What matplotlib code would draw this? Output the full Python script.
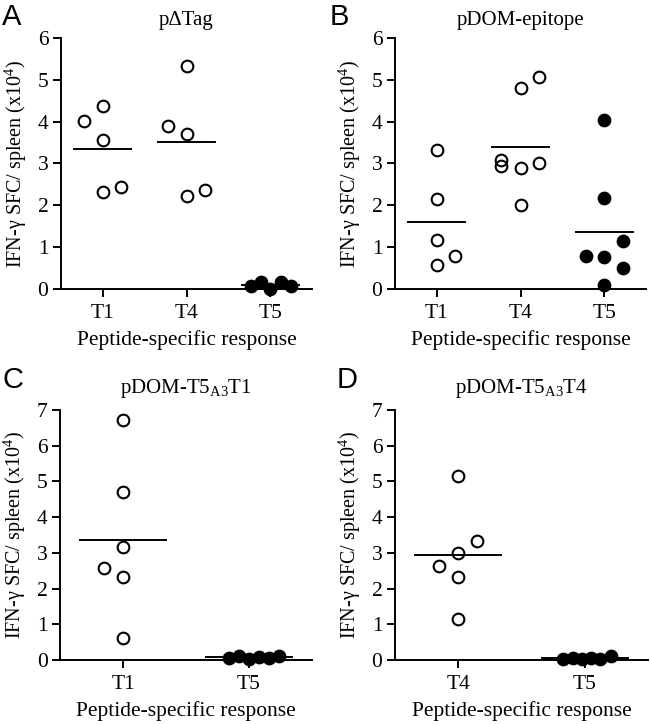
import matplotlib
matplotlib.use('Agg')
import matplotlib.pyplot as plt
import numpy as np

plt.rcParams['font.family'] = ['Liberation Serif', 'DejaVu Serif']
plt.rcParams['mathtext.fontset'] = 'custom'
plt.rcParams['mathtext.rm'] = 'Liberation Serif'
plt.rcParams['mathtext.it'] = 'Liberation Serif:italic'

# ---- data (x10^4 SFC / spleen)
# panel A  (pDeltaTag)
a_cats = ['T1', 'T4', 'T5']
a_t1 = [4.01, 4.38, 3.57, 2.31, 2.44]
a_t4 = [3.90, 5.34, 3.71, 2.23, 2.37]
a_t5 = [0.08, 0.17, 0.00, 0.17, 0.08]
# horizontal scatter of the points inside a column
a_t1_dx = [-0.22, 0, 0, 0, 0.22]
a_t4_dx = [-0.22, 0, 0, 0, 0.22]
a_t5_dx = [-0.23, -0.11, 0, 0.13, 0.25]

# panel B  (pDOM-epitope)
b_cats = ['T1', 'T4', 'T5']
b_t1 = [3.33, 2.14, 1.16, 0.58, 0.80]
b_t4 = [3.08, 2.94, 4.80, 5.07, 2.89, 3.00, 2.01]
b_t5 = [4.03, 2.18, 0.80, 0.76, 1.14, 0.50, 0.10]
b_t1_dx = [0, 0, 0, 0, 0.22]
b_t4_dx = [-0.23, -0.23, 0, 0.22, 0, 0.22, 0]
b_t5_dx = [0, 0, -0.22, 0, 0.22, 0.22, 0]

# panel C  (pDOM-T5A3T1)
c_cats = ['T1', 'T5']
c_t1 = [6.72, 4.70, 3.17, 2.58, 2.33, 0.61]
c_t5 = [0.05, 0.12, 0.02, 0.08, 0.06, 0.12]
c_t1_dx = [0, 0, 0, -0.15, 0, 0]
c_t5_dx = [-0.16, -0.08, 0, 0.08, 0.16, 0.24]

# panel D  (pDOM-T5A3T4)
d_cats = ['T4', 'T5']
d_t4 = [5.16, 3.34, 3.00, 2.64, 2.33, 1.15]
d_t5 = [0.03, 0.06, 0.02, 0.05, 0.04, 0.10]
d_t4_dx = [0, 0.15, 0, -0.15, 0, 0]
d_t5_dx = [-0.17, -0.09, -0.02, 0.05, 0.12, 0.21]

W, H = 650, 724
fig = plt.figure(figsize=(W / 100, H / 100), dpi=100)


def px_axes(left, right, top, bottom):
    # axes from pixel box
    return fig.add_axes([left / W, (H - bottom) / H, (right - left) / W, (bottom - top) / H])


def panel(ax, cats, groups, offsets, filled, title, ymax, letter, letter_xy, tpad):
    for i, (vals, dx, fill) in enumerate(zip(groups, offsets, filled)):
        xs = i + np.array(dx)
        m = np.mean(vals)
        ax.plot([i - 0.34, i + 0.34], [m, m], color='black', lw=1.4, zorder=2, clip_on=False)
        ax.plot(xs, vals, 'o', ms=8.4, mew=1.5, mec='black',
                mfc='black' if fill else 'none', zorder=3, clip_on=False)
    ax.set_xlim(-0.5, len(cats) - 0.5)
    ax.set_ylim(0, ymax)
    ax.set_yticks(range(ymax + 1))
    ax.set_xticks(range(len(cats)))
    ax.set_xticklabels(cats)
    for s in ['top', 'right']:
        ax.spines[s].set_visible(False)
    for s in ['left', 'bottom']:
        ax.spines[s].set_linewidth(1.4)
    ax.tick_params(direction='out', length=6, width=1.4, labelsize=15.5, pad=3)
    ax.tick_params(axis='x', pad=5)
    ax.set_xlabel('Peptide-specific response', fontsize=15.5, labelpad=5)
    ax.set_ylabel('IFN-γ SFC/ spleen (x10$^{4}$)', fontsize=14.5, labelpad=6)
    ax.set_title(title, fontsize=15, pad=tpad)
    # panel letter placed in figure pixels
    fig.text(letter_xy[0] / W, 1 - letter_xy[1] / H, letter, fontsize=21,
             family='Liberation Sans', ha='left', va='top')


axA = px_axes(61, 312, 38, 289)
panel(axA, a_cats, [a_t1, a_t4, a_t5], [a_t1_dx, a_t4_dx, a_t5_dx],
      [False, False, True], 'pΔTag', 6, 'A', (2, 3), 9)

axB = px_axes(395, 646, 38, 289)
panel(axB, b_cats, [b_t1, b_t4, b_t5], [b_t1_dx, b_t4_dx, b_t5_dx],
      [False, False, True], 'pDOM-epitope', 6, 'B', (330, 3), 9)

axC = px_axes(60, 312, 410, 660)
panel(axC, c_cats, [c_t1, c_t5], [c_t1_dx, c_t5_dx],
      [False, True], 'pDOM-T5$_{\\mathrm{A3}}$T1', 7, 'C', (2, 366), 12)

axD = px_axes(395, 648, 410, 660)
panel(axD, d_cats, [d_t4, d_t5], [d_t4_dx, d_t5_dx],
      [False, True], 'pDOM-T5$_{\\mathrm{A3}}$T4', 7, 'D', (337, 366), 12)

fig.savefig('out.png', dpi=100)
